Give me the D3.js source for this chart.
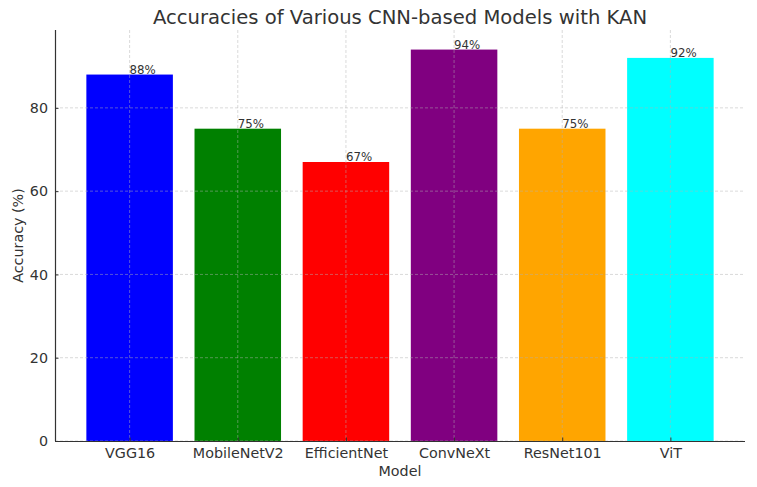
<!DOCTYPE html>
<html>
<head>
<meta charset="utf-8">
<script src="https://cdn.jsdelivr.net/npm/d3@7"></script>
<style>
  body { margin: 0; background: #fff; }
  text { font-family: "DejaVu Sans", sans-serif; fill: #333; }
</style>
</head>
<body>
<svg class="chart"></svg>
<script>
var models = ['VGG16','MobileNetV2','EfficientNet','ConvNeXt','ResNet101','ViT'];
var accuracies = [88,75,67,94,75,92];
var barcolors = ['#0000ff','#008000','#ff0000','#800080','#ffa500','#00ffff'];
var yticks = [0,20,40,60,80];

var svgwidth = 757, svgheight = 487;
var margins = {top:30, bottom:46, left:55, right:12};
var width = svgwidth - margins.left - margins.right;
var height = svgheight - margins.top - margins.bottom;

var svg = d3.select('.chart').attr('width',svgwidth).attr('height',svgheight);

// matplotlib style: bars of width 0.8 with 5% margins around the data
var xscale = d3.scaleLinear().domain([-0.69, models.length - 1 + 0.69]).range([0,width]);
var yscale = d3.scaleLinear().domain([0, d3.max(accuracies)*1.05]).range([height,0]);
var barw = xscale(0.8) - xscale(0);

var plot = svg.append('g').attr('transform','translate('+margins.left+','+margins.top+')');

plot.selectAll('.bar').data(accuracies).enter().append('rect')
    .attr('x',function(d,i){ return xscale(i - 0.4); })
    .attr('y',function(d){ return yscale(d); })
    .attr('width',barw)
    .attr('height',function(d){ return height - yscale(d); })
    .attr('fill',function(d,i){ return barcolors[i]; });

// grid on top of the bars
plot.selectAll('.hgrid').data(yticks).enter().append('line')
    .attr('x1',0).attr('x2',width)
    .attr('y1',function(d){ return yscale(d); })
    .attr('y2',function(d){ return yscale(d); })
    .attr('stroke','#b0b0b0').attr('stroke-opacity',0.6)
    .attr('stroke-width',0.8).attr('stroke-dasharray','3,2');

plot.selectAll('.vgrid').data(models).enter().append('line')
    .attr('x1',function(d,i){ return xscale(i); })
    .attr('x2',function(d,i){ return xscale(i); })
    .attr('y1',0).attr('y2',height)
    .attr('stroke','#b0b0b0').attr('stroke-opacity',0.6)
    .attr('stroke-width',0.8).attr('stroke-dasharray','3,2');

plot.selectAll('.barlabel').data(accuracies).enter().append('text')
    .attr('x',function(d,i){ return xscale(i); })
    .attr('y',function(d){ return yscale(d) - 1; })
    .style('font-size','11.8px')
    .text(function(d){ return d + '%'; });

var yaxis = plot.append('g')
    .call(d3.axisLeft(yscale).tickValues(yticks).tickSize(-3.5).tickPadding(7));
var xaxis = plot.append('g').attr('transform','translate(0,'+height+')')
    .call(d3.axisBottom(xscale).tickValues(d3.range(models.length))
          .tickFormat(function(i){ return models[i]; }).tickSize(-3.5).tickPadding(7));

[yaxis, xaxis].forEach(function(ax){
  ax.select('.domain').attr('stroke','#333').attr('stroke-width',1.2);
  ax.selectAll('.tick line').attr('stroke','#333');
  ax.selectAll('.tick text').style('font-size','14.3px').attr('fill','#333');
});
xaxis.select('.domain').attr('d','M0,0.5H'+width);
yaxis.select('.domain').attr('d','M0.5,0V'+height);

svg.append('text')
   .attr('x',margins.left + width/2).attr('y',23.5)
   .attr('text-anchor','middle')
   .style('font-size','19.6px')
   .text('Accuracies of Various CNN-based Models with KAN');

svg.append('text')
   .attr('x',margins.left + width/2).attr('y',476)
   .attr('text-anchor','middle')
   .style('font-size','14.3px')
   .text('Model');

svg.append('text')
   .attr('transform','translate(23,'+(margins.top + height/2)+') rotate(-90)')
   .attr('text-anchor','middle')
   .style('font-size','14.3px')
   .text('Accuracy (%)');
</script>
</body>
</html>
